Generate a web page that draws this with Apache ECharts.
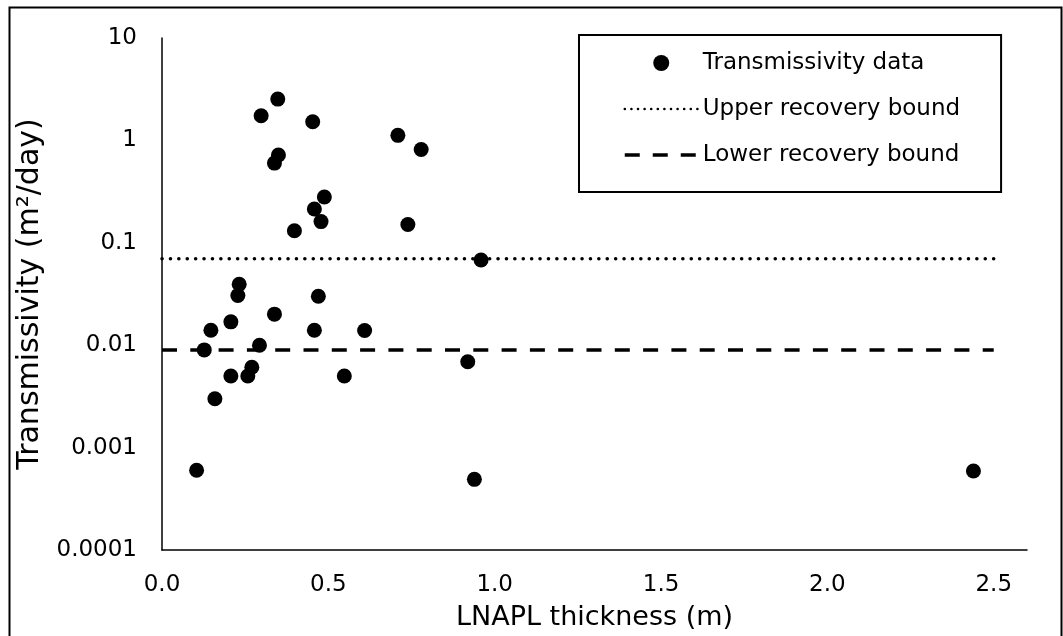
<!DOCTYPE html>
<html>
<head>
<meta charset="utf-8">
<script src="https://cdn.jsdelivr.net/npm/echarts@6/dist/echarts.min.js"></script>
<style>
  html, body { margin: 0; padding: 0; background: #fff; }
  #chart { width: 1063px; height: 636px; }
</style>
</head>
<body>
<div id="chart"></div>
<script>
// LNAPL thickness (m)
const thickness = [0.348, 0.298, 0.453, 0.350, 0.338, 0.488, 0.458, 0.478, 0.398,
  0.709, 0.779, 0.739, 0.959, 0.232, 0.228, 0.147, 0.207, 0.338, 0.470, 0.458,
  0.609, 0.127, 0.293, 0.270, 0.258, 0.207, 0.548, 0.159, 0.104, 0.919, 0.939, 2.439];
// Transmissivity (m2/day)
const transmissivity = [2.53, 1.74, 1.52, 0.72, 0.60, 0.28, 0.214, 0.161, 0.131,
  1.12, 0.815, 0.151, 0.068, 0.0394, 0.0306, 0.0140, 0.0169, 0.0201, 0.0301, 0.0140,
  0.0139, 0.0090, 0.0100, 0.0061, 0.0050, 0.0050, 0.0050, 0.0030, 0.00060, 0.0069, 0.00049, 0.00059];
const upperBound = 0.07;
const lowerBound = 0.009;
const boundRange = [0, 2.5];
const xTicks = [0, 0.5, 1.0, 1.5, 2.0, 2.5];
const yTicks = [0.0001, 0.001, 0.01, 0.1, 1, 10];
const seriesNames = ['Transmissivity data', 'Upper recovery bound', 'Lower recovery bound'];

const FONT = 'DejaVu Sans';
const chart = echarts.init(document.getElementById('chart'), null, { renderer: 'canvas' });

const points = thickness.map((x, i) => [x, transmissivity[i]]);

chart.setOption({
  animation: false,
  backgroundColor: '#fff',
  textStyle: { fontFamily: FONT, color: '#000' },
  graphic: [{
    type: 'rect', left: 7, top: 5, silent: true,
    shape: { width: 1052, height: 700 },
    style: { fill: 'none', stroke: '#000', lineWidth: 2 }
  }],
  grid: { left: 162, right: 36, top: 38, bottom: 85, containLabel: false },
  legend: {
    orient: 'vertical',
    left: 579, top: 35,
    padding: [16, 41, 25, 44],
    borderColor: '#000', borderWidth: 2,
    backgroundColor: '#fff',
    itemWidth: 73, itemHeight: 16, itemGap: 22,
    data: [
      { name: seriesNames[0] },
      { name: seriesNames[1], lineStyle: { width: 2.5, type: [0.1, 6.5], cap: 'round' } },
      { name: seriesNames[2], lineStyle: { width: 3.5, type: [15, 13], cap: 'butt' } }
    ],
    textStyle: { fontFamily: FONT, fontSize: 23, color: '#000', lineHeight: 24 }
  },
  xAxis: {
    type: 'value', min: 0, max: 2.6, interval: 0.5,
    name: 'LNAPL thickness (m)', nameLocation: 'middle', nameGap: 54,
    nameTextStyle: { fontFamily: FONT, fontSize: 27, color: '#000' },
    axisLine: { show: true, onZero: false, lineStyle: { color: '#000', width: 1.5 } },
    axisTick: { show: false },
    splitLine: { show: false },
    axisLabel: {
      fontFamily: FONT, fontSize: 23, color: '#000', margin: 24,
      showMaxLabel: false,
      formatter: v => (xTicks.some(t => Math.abs(t - v) < 1e-9) ? v.toFixed(1) : '')
    }
  },
  yAxis: {
    type: 'log', logBase: 10, min: yTicks[0], max: yTicks[yTicks.length - 1],
    name: 'Transmissivity (m²/day)', nameLocation: 'middle', nameGap: 117,
    nameTextStyle: { fontFamily: FONT, fontSize: 30, color: '#000' },
    axisLine: { show: true, onZero: false, lineStyle: { color: '#000', width: 1.5 } },
    axisTick: { show: false },
    splitLine: { show: false },
    minorTick: { show: false },
    axisLabel: {
      fontFamily: FONT, fontSize: 23, color: '#000', margin: 25,
      formatter: v => String(parseFloat(Number(v).toPrecision(6)))
    }
  },
  series: [
    {
      name: seriesNames[0], type: 'scatter', data: points,
      symbol: 'circle', symbolSize: 15, z: 5,
      itemStyle: { color: '#000', opacity: 1 }
    },
    {
      name: seriesNames[1], type: 'line', symbol: 'none', z: 2,
      data: boundRange.map(x => [x, upperBound]),
      itemStyle: { color: 'rgba(0,0,0,0)' },
      lineStyle: { color: '#000', width: 3.5, type: [0.1, 8.3], cap: 'round' }
    },
    {
      name: seriesNames[2], type: 'line', symbol: 'none', z: 2,
      data: boundRange.map(x => [x, lowerBound]),
      itemStyle: { color: 'rgba(0,0,0,0)' },
      lineStyle: { color: '#000', width: 3.5, type: [15, 13.3], cap: 'butt' }
    }
  ]
});
</script>
</body>
</html>
